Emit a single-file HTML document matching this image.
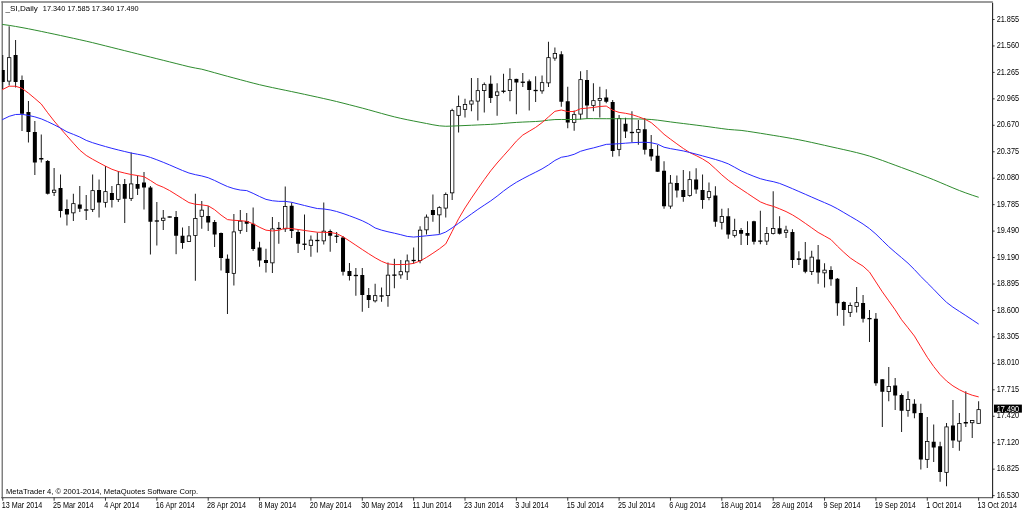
<!DOCTYPE html>
<html><head><meta charset="utf-8"><title>_SI,Daily</title>
<style>
html,body{margin:0;padding:0;background:#fff;}
body{width:1024px;height:512px;overflow:hidden;}
svg{display:block;}
text{font-family:"Liberation Sans",sans-serif;font-size:8.6px;fill:#000;}
.w{stroke:#000;stroke-width:0.9;}
.bb{fill:#000;}
.wb{fill:#fff;stroke:#000;stroke-width:0.8;}
.ma{fill:none;stroke-width:1;stroke-linejoin:round;}
</style></head><body>
<svg width="1024" height="512" viewBox="0 0 1024 512">
<rect x="0" y="0" width="1024" height="512" fill="#fff"/>
<line x1="2.25" y1="1.4" x2="2.25" y2="498.2" stroke="#7a7a7a" stroke-width="1.4"/>
<line x1="1.3" y1="2.1" x2="992.8" y2="2.1" stroke="#7a7a7a" stroke-width="1.5"/>
<line x1="1.3" y1="497.6" x2="993" y2="497.6" stroke="#6a6a6a" stroke-width="1.3"/>
<line x1="992.6" y1="2.8" x2="992.6" y2="498" stroke="#222" stroke-width="1.1"/>
<defs><clipPath id="c"><rect x="1.9" y="2.8" width="989.9" height="494.2"/></clipPath></defs>
<g clip-path="url(#c)">
<line class="w" x1="2.75" x2="2.75" y1="55.00" y2="89.00"/><rect class="bb" x="0.75" y="70.00" width="4.0" height="12.00"/>
<line class="w" x1="9.17" x2="9.17" y1="26.25" y2="85.50"/><rect class="wb" x="7.47" y="57.65" width="3.40" height="23.45"/>
<line class="w" x1="15.59" x2="15.59" y1="40.00" y2="87.50"/><rect class="bb" x="13.59" y="55.00" width="4.0" height="27.00"/>
<line class="w" x1="22.01" x2="22.01" y1="75.50" y2="131.00"/><rect class="bb" x="20.01" y="80.00" width="4.0" height="33.75"/>
<line class="w" x1="28.43" x2="28.43" y1="101.00" y2="142.50"/><rect class="bb" x="26.43" y="112.00" width="4.0" height="20.00"/>
<line class="w" x1="34.85" x2="34.85" y1="121.00" y2="175.00"/><rect class="bb" x="32.85" y="132.00" width="4.0" height="30.50"/>
<line class="w" x1="41.27" x2="41.27" y1="134.50" y2="162.50"/><rect class="bb" x="39.17" y="158.00" width="4.2" height="1.50"/>
<line class="w" x1="47.69" x2="47.69" y1="160.00" y2="194.50"/><rect class="bb" x="45.69" y="161.00" width="4.0" height="32.75"/>
<line class="w" x1="54.11" x2="54.11" y1="168.00" y2="196.00"/><rect class="wb" x="52.41" y="190.15" width="3.40" height="2.20"/>
<line class="w" x1="60.53" x2="60.53" y1="174.50" y2="217.50"/><rect class="bb" x="58.53" y="188.00" width="4.0" height="23.00"/>
<line class="w" x1="66.95" x2="66.95" y1="199.50" y2="225.50"/><rect class="bb" x="64.95" y="209.00" width="4.0" height="5.50"/>
<line class="w" x1="73.37" x2="73.37" y1="193.75" y2="221.00"/><rect class="wb" x="71.67" y="203.65" width="3.40" height="9.20"/>
<line class="w" x1="79.79" x2="79.79" y1="186.00" y2="212.00"/><rect class="bb" x="77.79" y="204.50" width="4.0" height="4.25"/>
<line class="w" x1="86.21" x2="86.21" y1="195.00" y2="220.00"/><rect class="bb" x="84.11" y="209.35" width="4.2" height="1.30"/>
<line class="w" x1="92.63" x2="92.63" y1="174.50" y2="212.00"/><rect class="wb" x="90.93" y="190.65" width="3.40" height="18.70"/>
<line class="w" x1="99.05" x2="99.05" y1="179.50" y2="217.50"/><rect class="bb" x="97.05" y="190.00" width="4.0" height="12.50"/>
<line class="w" x1="105.47" x2="105.47" y1="166.00" y2="207.50"/><rect class="wb" x="103.77" y="191.65" width="3.40" height="10.70"/>
<line class="w" x1="111.90" x2="111.90" y1="186.00" y2="207.50"/><rect class="bb" x="109.90" y="193.00" width="4.0" height="7.00"/>
<line class="w" x1="118.32" x2="118.32" y1="171.00" y2="202.00"/><rect class="wb" x="116.62" y="184.65" width="3.40" height="14.70"/>
<line class="w" x1="124.74" x2="124.74" y1="179.00" y2="223.00"/><rect class="bb" x="122.74" y="184.00" width="4.0" height="14.75"/>
<line class="w" x1="131.16" x2="131.16" y1="152.50" y2="201.00"/><rect class="wb" x="129.46" y="183.90" width="3.40" height="14.45"/>
<line class="w" x1="137.58" x2="137.58" y1="175.50" y2="195.00"/><rect class="bb" x="135.58" y="184.00" width="4.0" height="4.75"/>
<line class="w" x1="144.00" x2="144.00" y1="172.00" y2="209.50"/><rect class="bb" x="142.00" y="182.50" width="4.0" height="5.00"/>
<line class="w" x1="150.42" x2="150.42" y1="186.00" y2="254.50"/><rect class="bb" x="148.42" y="187.50" width="4.0" height="34.25"/>
<line class="w" x1="156.84" x2="156.84" y1="202.00" y2="245.50"/><rect class="bb" x="154.74" y="220.35" width="4.2" height="1.30"/>
<line class="w" x1="163.26" x2="163.26" y1="210.00" y2="230.00"/><rect class="wb" x="161.56" y="218.15" width="3.40" height="2.20"/>
<line class="w" x1="169.68" x2="169.68" y1="216.50" y2="217.50"/><rect class="bb" x="167.58" y="216.35" width="4.2" height="1.30"/>
<line class="w" x1="176.10" x2="176.10" y1="211.00" y2="254.20"/><rect class="bb" x="174.10" y="217.00" width="4.0" height="18.75"/>
<line class="w" x1="182.52" x2="182.52" y1="227.50" y2="248.75"/><rect class="bb" x="180.52" y="235.75" width="4.0" height="7.25"/>
<line class="w" x1="188.94" x2="188.94" y1="226.00" y2="241.75"/><rect class="wb" x="187.24" y="235.90" width="3.40" height="5.70"/>
<line class="w" x1="195.36" x2="195.36" y1="193.75" y2="280.75"/><rect class="wb" x="193.66" y="218.40" width="3.40" height="17.20"/>
<line class="w" x1="201.78" x2="201.78" y1="201.00" y2="228.75"/><rect class="wb" x="200.08" y="210.15" width="3.40" height="6.20"/>
<line class="w" x1="208.20" x2="208.20" y1="206.00" y2="231.00"/><rect class="bb" x="206.20" y="216.00" width="4.0" height="6.50"/>
<line class="w" x1="214.62" x2="214.62" y1="220.00" y2="247.00"/><rect class="bb" x="212.62" y="222.00" width="4.0" height="12.50"/>
<line class="w" x1="221.04" x2="221.04" y1="232.50" y2="270.50"/><rect class="bb" x="219.04" y="233.00" width="4.0" height="25.00"/>
<line class="w" x1="227.46" x2="227.46" y1="254.50" y2="314.00"/><rect class="bb" x="225.46" y="258.75" width="4.0" height="14.25"/>
<line class="w" x1="233.88" x2="233.88" y1="214.00" y2="285.50"/><rect class="wb" x="232.18" y="231.90" width="3.40" height="41.45"/>
<line class="w" x1="240.30" x2="240.30" y1="210.00" y2="233.75"/><rect class="wb" x="238.60" y="221.15" width="3.40" height="9.20"/>
<line class="w" x1="246.72" x2="246.72" y1="213.00" y2="232.00"/><rect class="bb" x="244.72" y="221.00" width="4.0" height="2.75"/>
<line class="w" x1="253.14" x2="253.14" y1="207.50" y2="251.00"/><rect class="bb" x="251.14" y="223.75" width="4.0" height="25.25"/>
<line class="w" x1="259.56" x2="259.56" y1="241.75" y2="266.75"/><rect class="bb" x="257.56" y="247.50" width="4.0" height="13.00"/>
<line class="w" x1="265.98" x2="265.98" y1="248.75" y2="272.50"/><rect class="bb" x="263.98" y="260.00" width="4.0" height="3.00"/>
<line class="w" x1="272.40" x2="272.40" y1="217.00" y2="273.00"/><rect class="wb" x="270.70" y="228.90" width="3.40" height="33.95"/>
<line class="w" x1="278.82" x2="278.82" y1="222.00" y2="243.75"/><rect class="bb" x="276.72" y="227.85" width="4.2" height="1.30"/>
<line class="w" x1="285.24" x2="285.24" y1="186.50" y2="232.00"/><rect class="wb" x="283.54" y="206.40" width="3.40" height="22.45"/>
<line class="w" x1="291.66" x2="291.66" y1="202.50" y2="238.00"/><rect class="bb" x="289.66" y="205.75" width="4.0" height="25.25"/>
<line class="w" x1="298.08" x2="298.08" y1="230.00" y2="253.00"/><rect class="bb" x="296.08" y="232.00" width="4.0" height="11.75"/>
<line class="w" x1="304.50" x2="304.50" y1="214.50" y2="250.00"/><rect class="bb" x="302.40" y="243.60" width="4.2" height="1.30"/>
<line class="w" x1="310.92" x2="310.92" y1="235.50" y2="256.75"/><rect class="wb" x="309.22" y="240.15" width="3.40" height="5.20"/>
<line class="w" x1="317.34" x2="317.34" y1="232.50" y2="252.50"/><rect class="bb" x="315.24" y="239.85" width="4.2" height="1.30"/>
<line class="w" x1="323.76" x2="323.76" y1="202.50" y2="244.50"/><rect class="wb" x="322.06" y="231.15" width="3.40" height="9.70"/>
<line class="w" x1="330.19" x2="330.19" y1="229.50" y2="251.75"/><rect class="bb" x="328.19" y="231.00" width="4.0" height="4.75"/>
<line class="w" x1="336.61" x2="336.61" y1="232.00" y2="243.00"/><rect class="bb" x="334.51" y="235.60" width="4.2" height="1.30"/>
<line class="w" x1="343.03" x2="343.03" y1="236.00" y2="275.50"/><rect class="bb" x="341.03" y="237.50" width="4.0" height="34.25"/>
<line class="w" x1="349.45" x2="349.45" y1="263.00" y2="280.50"/><rect class="bb" x="347.45" y="271.00" width="4.0" height="5.00"/>
<line class="w" x1="355.87" x2="355.87" y1="268.00" y2="295.75"/><rect class="bb" x="353.77" y="274.85" width="4.2" height="1.30"/>
<line class="w" x1="362.29" x2="362.29" y1="268.00" y2="311.75"/><rect class="bb" x="360.29" y="275.00" width="4.0" height="20.00"/>
<line class="w" x1="368.71" x2="368.71" y1="288.00" y2="308.00"/><rect class="bb" x="366.71" y="295.00" width="4.0" height="5.00"/>
<line class="w" x1="375.13" x2="375.13" y1="283.75" y2="302.50"/><rect class="wb" x="373.43" y="295.65" width="3.40" height="5.20"/>
<line class="w" x1="381.55" x2="381.55" y1="287.50" y2="301.75"/><rect class="bb" x="379.45" y="295.35" width="4.2" height="1.30"/>
<line class="w" x1="387.97" x2="387.97" y1="262.50" y2="306.75"/><rect class="wb" x="386.27" y="275.15" width="3.40" height="20.45"/>
<line class="w" x1="394.39" x2="394.39" y1="258.75" y2="288.25"/><rect class="bb" x="392.29" y="274.48" width="4.2" height="1.30"/>
<line class="w" x1="400.81" x2="400.81" y1="260.00" y2="278.75"/><rect class="wb" x="399.11" y="271.65" width="3.40" height="3.20"/>
<line class="w" x1="407.23" x2="407.23" y1="254.50" y2="280.00"/><rect class="wb" x="405.53" y="260.90" width="3.40" height="10.95"/>
<line class="w" x1="413.65" x2="413.65" y1="247.50" y2="263.75"/><rect class="bb" x="411.55" y="259.85" width="4.2" height="1.30"/>
<line class="w" x1="420.07" x2="420.07" y1="226.25" y2="263.25"/><rect class="wb" x="418.37" y="230.15" width="3.40" height="30.45"/>
<line class="w" x1="426.49" x2="426.49" y1="214.50" y2="234.50"/><rect class="wb" x="424.79" y="217.15" width="3.40" height="12.70"/>
<line class="w" x1="432.91" x2="432.91" y1="194.50" y2="221.75"/><rect class="bb" x="430.91" y="210.00" width="4.0" height="5.00"/>
<line class="w" x1="439.33" x2="439.33" y1="206.25" y2="233.75"/><rect class="wb" x="437.63" y="207.65" width="3.40" height="7.20"/>
<line class="w" x1="445.75" x2="445.75" y1="192.50" y2="217.50"/><rect class="wb" x="444.05" y="194.40" width="3.40" height="13.70"/>
<line class="w" x1="452.17" x2="452.17" y1="108.75" y2="200.00"/><rect class="wb" x="450.47" y="110.65" width="3.40" height="82.20"/>
<line class="w" x1="458.59" x2="458.59" y1="95.50" y2="132.50"/><rect class="wb" x="456.89" y="106.40" width="3.40" height="8.95"/>
<line class="w" x1="465.01" x2="465.01" y1="98.75" y2="117.50"/><rect class="wb" x="463.31" y="104.40" width="3.40" height="4.95"/>
<line class="w" x1="471.43" x2="471.43" y1="78.00" y2="111.25"/><rect class="wb" x="469.73" y="100.90" width="3.40" height="3.20"/>
<line class="w" x1="477.85" x2="477.85" y1="78.00" y2="120.50"/><rect class="wb" x="476.15" y="90.65" width="3.40" height="10.45"/>
<line class="w" x1="484.27" x2="484.27" y1="82.50" y2="112.50"/><rect class="wb" x="482.57" y="84.65" width="3.40" height="5.95"/>
<line class="w" x1="490.69" x2="490.69" y1="75.50" y2="103.00"/><rect class="bb" x="488.69" y="83.75" width="4.0" height="14.25"/>
<line class="w" x1="497.11" x2="497.11" y1="83.25" y2="115.75"/><rect class="wb" x="495.41" y="91.90" width="3.40" height="3.45"/>
<line class="w" x1="503.53" x2="503.53" y1="73.75" y2="93.25"/><rect class="bb" x="501.43" y="90.60" width="4.2" height="1.30"/>
<line class="w" x1="509.95" x2="509.95" y1="68.25" y2="101.25"/><rect class="wb" x="508.25" y="79.65" width="3.40" height="10.95"/>
<line class="w" x1="516.37" x2="516.37" y1="78.75" y2="114.25"/><rect class="bb" x="514.37" y="78.90" width="4.0" height="3.60"/>
<line class="w" x1="522.79" x2="522.79" y1="73.00" y2="87.00"/><rect class="bb" x="520.69" y="81.60" width="4.2" height="1.30"/>
<line class="w" x1="529.21" x2="529.21" y1="79.50" y2="110.50"/><rect class="bb" x="527.21" y="81.25" width="4.0" height="8.75"/>
<line class="w" x1="535.63" x2="535.63" y1="76.25" y2="102.00"/><rect class="bb" x="533.53" y="89.85" width="4.2" height="1.30"/>
<line class="w" x1="542.06" x2="542.06" y1="75.50" y2="93.75"/><rect class="wb" x="540.36" y="82.65" width="3.40" height="8.20"/>
<line class="w" x1="548.48" x2="548.48" y1="41.75" y2="87.00"/><rect class="wb" x="546.78" y="57.65" width="3.40" height="25.20"/>
<line class="w" x1="554.90" x2="554.90" y1="47.50" y2="60.75"/><rect class="wb" x="553.20" y="53.40" width="3.40" height="4.70"/>
<line class="w" x1="561.32" x2="561.32" y1="51.25" y2="106.75"/><rect class="bb" x="559.32" y="54.25" width="4.0" height="47.50"/>
<line class="w" x1="567.74" x2="567.74" y1="86.75" y2="128.25"/><rect class="bb" x="565.74" y="101.25" width="4.0" height="21.25"/>
<line class="w" x1="574.16" x2="574.16" y1="110.50" y2="130.75"/><rect class="wb" x="572.46" y="114.65" width="3.40" height="7.70"/>
<line class="w" x1="580.58" x2="580.58" y1="71.25" y2="119.50"/><rect class="wb" x="578.88" y="79.65" width="3.40" height="34.45"/>
<line class="w" x1="587.00" x2="587.00" y1="70.00" y2="118.75"/><rect class="bb" x="585.00" y="80.00" width="4.0" height="25.50"/>
<line class="w" x1="593.42" x2="593.42" y1="83.25" y2="111.25"/><rect class="wb" x="591.72" y="100.65" width="3.40" height="4.70"/>
<line class="w" x1="599.84" x2="599.84" y1="86.75" y2="117.50"/><rect class="wb" x="598.14" y="98.40" width="3.40" height="1.95"/>
<line class="w" x1="606.26" x2="606.26" y1="89.25" y2="103.25"/><rect class="bb" x="604.26" y="97.50" width="4.0" height="4.25"/>
<line class="w" x1="612.68" x2="612.68" y1="100.00" y2="156.75"/><rect class="bb" x="610.68" y="102.00" width="4.0" height="49.00"/>
<line class="w" x1="619.10" x2="619.10" y1="115.00" y2="156.25"/><rect class="wb" x="617.40" y="118.40" width="3.40" height="30.95"/>
<line class="w" x1="625.52" x2="625.52" y1="117.75" y2="138.00"/><rect class="bb" x="623.52" y="123.75" width="4.0" height="7.75"/>
<line class="w" x1="631.94" x2="631.94" y1="111.25" y2="142.25"/><rect class="bb" x="629.84" y="131.85" width="4.2" height="1.30"/>
<line class="w" x1="638.36" x2="638.36" y1="120.00" y2="144.75"/><rect class="wb" x="636.66" y="129.40" width="3.40" height="2.95"/>
<line class="w" x1="644.78" x2="644.78" y1="118.00" y2="154.50"/><rect class="bb" x="642.78" y="129.25" width="4.0" height="20.50"/>
<line class="w" x1="651.20" x2="651.20" y1="135.00" y2="160.75"/><rect class="bb" x="649.20" y="149.00" width="4.0" height="7.50"/>
<line class="w" x1="657.62" x2="657.62" y1="145.00" y2="171.75"/><rect class="bb" x="655.62" y="155.75" width="4.0" height="16.00"/>
<line class="w" x1="664.04" x2="664.04" y1="161.25" y2="208.75"/><rect class="bb" x="662.04" y="170.75" width="4.0" height="35.50"/>
<line class="w" x1="670.46" x2="670.46" y1="175.00" y2="208.75"/><rect class="wb" x="668.76" y="183.15" width="3.40" height="22.95"/>
<line class="w" x1="676.88" x2="676.88" y1="175.50" y2="197.50"/><rect class="bb" x="674.88" y="183.00" width="4.0" height="7.50"/>
<line class="w" x1="683.30" x2="683.30" y1="170.00" y2="201.75"/><rect class="bb" x="681.30" y="190.00" width="4.0" height="7.00"/>
<line class="w" x1="689.72" x2="689.72" y1="171.25" y2="196.75"/><rect class="wb" x="688.02" y="179.65" width="3.40" height="15.95"/>
<line class="w" x1="696.14" x2="696.14" y1="168.25" y2="193.75"/><rect class="bb" x="694.14" y="179.50" width="4.0" height="10.00"/>
<line class="w" x1="702.56" x2="702.56" y1="174.50" y2="208.75"/><rect class="bb" x="700.56" y="190.00" width="4.0" height="10.00"/>
<line class="w" x1="708.98" x2="708.98" y1="182.50" y2="200.25"/><rect class="wb" x="707.28" y="191.65" width="3.40" height="5.95"/>
<line class="w" x1="715.40" x2="715.40" y1="186.25" y2="226.75"/><rect class="bb" x="713.40" y="195.50" width="4.0" height="26.25"/>
<line class="w" x1="721.82" x2="721.82" y1="208.75" y2="229.50"/><rect class="wb" x="720.12" y="216.40" width="3.40" height="5.95"/>
<line class="w" x1="728.24" x2="728.24" y1="208.25" y2="238.75"/><rect class="bb" x="726.24" y="216.25" width="4.0" height="18.25"/>
<line class="w" x1="734.66" x2="734.66" y1="218.75" y2="237.50"/><rect class="wb" x="732.96" y="230.40" width="3.40" height="4.95"/>
<line class="w" x1="741.08" x2="741.08" y1="228.00" y2="245.00"/><rect class="bb" x="739.08" y="230.00" width="4.0" height="3.75"/>
<line class="w" x1="747.50" x2="747.50" y1="221.25" y2="245.00"/><rect class="bb" x="745.50" y="233.00" width="4.0" height="2.75"/>
<line class="w" x1="753.93" x2="753.93" y1="220.75" y2="244.50"/><rect class="bb" x="751.93" y="221.25" width="4.0" height="20.50"/>
<line class="w" x1="760.35" x2="760.35" y1="210.75" y2="244.25"/><rect class="bb" x="758.25" y="240.47" width="4.2" height="1.30"/>
<line class="w" x1="766.77" x2="766.77" y1="227.00" y2="245.00"/><rect class="wb" x="765.07" y="233.40" width="3.40" height="7.70"/>
<line class="w" x1="773.19" x2="773.19" y1="191.25" y2="234.50"/><rect class="wb" x="771.49" y="228.40" width="3.40" height="5.20"/>
<line class="w" x1="779.61" x2="779.61" y1="216.25" y2="234.50"/><rect class="bb" x="777.61" y="228.25" width="4.0" height="5.50"/>
<line class="w" x1="786.03" x2="786.03" y1="225.75" y2="238.00"/><rect class="wb" x="784.33" y="230.15" width="3.40" height="2.20"/>
<line class="w" x1="792.45" x2="792.45" y1="229.25" y2="268.00"/><rect class="bb" x="790.45" y="232.00" width="4.0" height="28.00"/>
<line class="w" x1="798.87" x2="798.87" y1="251.25" y2="265.00"/><rect class="bb" x="796.77" y="258.25" width="4.2" height="1.75"/>
<line class="w" x1="805.29" x2="805.29" y1="242.00" y2="273.25"/><rect class="bb" x="803.29" y="259.50" width="4.0" height="12.25"/>
<line class="w" x1="811.71" x2="811.71" y1="250.75" y2="275.00"/><rect class="wb" x="810.01" y="257.15" width="3.40" height="14.45"/>
<line class="w" x1="818.13" x2="818.13" y1="245.00" y2="283.75"/><rect class="bb" x="816.13" y="259.50" width="4.0" height="13.00"/>
<line class="w" x1="824.55" x2="824.55" y1="263.25" y2="287.50"/><rect class="wb" x="822.85" y="270.15" width="3.40" height="2.70"/>
<line class="w" x1="830.97" x2="830.97" y1="266.25" y2="285.75"/><rect class="bb" x="828.97" y="270.00" width="4.0" height="9.25"/>
<line class="w" x1="837.39" x2="837.39" y1="278.00" y2="315.75"/><rect class="bb" x="835.39" y="278.75" width="4.0" height="24.50"/>
<line class="w" x1="843.81" x2="843.81" y1="301.25" y2="325.75"/><rect class="bb" x="841.81" y="302.00" width="4.0" height="8.00"/>
<line class="w" x1="850.23" x2="850.23" y1="302.50" y2="317.00"/><rect class="wb" x="848.53" y="305.40" width="3.40" height="6.95"/>
<line class="w" x1="856.65" x2="856.65" y1="287.00" y2="312.50"/><rect class="wb" x="854.95" y="302.65" width="3.40" height="3.70"/>
<line class="w" x1="863.07" x2="863.07" y1="295.00" y2="322.50"/><rect class="bb" x="861.07" y="303.00" width="4.0" height="15.75"/>
<line class="w" x1="869.49" x2="869.49" y1="310.00" y2="342.00"/><rect class="bb" x="867.39" y="317.98" width="4.2" height="1.30"/>
<line class="w" x1="875.91" x2="875.91" y1="313.00" y2="385.75"/><rect class="bb" x="873.91" y="318.75" width="4.0" height="64.50"/>
<line class="w" x1="882.33" x2="882.33" y1="379.25" y2="427.00"/><rect class="bb" x="880.33" y="379.25" width="4.0" height="12.50"/>
<line class="w" x1="888.75" x2="888.75" y1="367.00" y2="401.25"/><rect class="wb" x="887.05" y="386.40" width="3.40" height="5.20"/>
<line class="w" x1="895.17" x2="895.17" y1="378.00" y2="410.00"/><rect class="bb" x="893.17" y="385.50" width="4.0" height="10.00"/>
<line class="w" x1="901.59" x2="901.59" y1="393.50" y2="432.00"/><rect class="bb" x="899.59" y="395.00" width="4.0" height="15.75"/>
<line class="w" x1="908.01" x2="908.01" y1="391.25" y2="416.75"/><rect class="wb" x="906.31" y="399.40" width="3.40" height="10.95"/>
<line class="w" x1="914.43" x2="914.43" y1="399.25" y2="418.25"/><rect class="bb" x="912.43" y="403.75" width="4.0" height="9.50"/>
<line class="w" x1="920.85" x2="920.85" y1="403.75" y2="469.50"/><rect class="bb" x="918.85" y="413.00" width="4.0" height="46.50"/>
<line class="w" x1="927.27" x2="927.27" y1="417.00" y2="468.00"/><rect class="wb" x="925.57" y="441.40" width="3.40" height="17.95"/>
<line class="w" x1="933.69" x2="933.69" y1="424.50" y2="462.00"/><rect class="bb" x="931.69" y="441.75" width="4.0" height="5.75"/>
<line class="w" x1="940.11" x2="940.11" y1="441.75" y2="481.75"/><rect class="bb" x="938.11" y="446.25" width="4.0" height="25.75"/>
<line class="w" x1="946.53" x2="946.53" y1="423.00" y2="486.25"/><rect class="wb" x="944.83" y="426.90" width="3.40" height="45.45"/>
<line class="w" x1="952.95" x2="952.95" y1="400.00" y2="448.00"/><rect class="bb" x="950.95" y="425.50" width="4.0" height="15.00"/>
<line class="w" x1="959.37" x2="959.37" y1="413.00" y2="450.75"/><rect class="wb" x="957.67" y="423.40" width="3.40" height="17.70"/>
<line class="w" x1="965.80" x2="965.80" y1="391.25" y2="427.00"/><rect class="bb" x="963.70" y="422.00" width="4.2" height="1.50"/>
<line class="w" x1="972.22" x2="972.22" y1="420.00" y2="438.00"/><rect class="wb" x="970.52" y="420.55" width="3.40" height="2.20"/>
<line class="w" x1="978.64" x2="978.64" y1="401.25" y2="423.50"/><rect class="wb" x="976.94" y="409.65" width="3.40" height="13.70"/>
<path class="ma" stroke="#2e8b2e" d="M2.00,24.40 L2.75,24.49 L9.17,25.37 L15.59,26.44 L22.01,27.58 L28.43,28.79 L34.85,30.08 L41.27,31.40 L47.69,32.75 L54.11,34.11 L60.53,35.49 L66.95,36.90 L73.37,38.30 L79.79,39.71 L86.21,41.16 L92.63,42.67 L99.05,44.26 L105.47,45.87 L111.90,47.47 L118.32,49.08 L124.74,50.68 L131.16,52.29 L137.58,53.89 L144.00,55.50 L150.42,57.10 L156.84,58.71 L163.26,60.31 L169.68,61.92 L176.10,63.52 L182.52,65.13 L188.94,66.73 L195.36,68.05 L201.78,69.21 L208.20,70.93 L214.62,72.72 L221.04,74.51 L227.46,76.29 L233.88,78.00 L240.30,79.71 L246.72,81.43 L253.14,83.11 L259.56,84.71 L265.98,86.19 L272.40,87.59 L278.82,88.93 L285.24,90.25 L291.66,91.58 L298.08,92.95 L304.50,94.33 L310.92,95.72 L317.34,97.12 L323.76,98.55 L330.19,100.00 L336.61,101.53 L343.03,103.13 L349.45,104.77 L355.87,106.43 L362.29,108.10 L368.71,109.84 L375.13,111.63 L381.55,113.43 L387.97,115.19 L394.39,116.85 L400.81,118.36 L407.23,119.73 L413.65,121.01 L420.07,122.25 L426.49,123.49 L432.91,124.78 L439.33,125.82 L445.75,126.28 L452.17,126.07 L458.59,125.81 L465.01,125.52 L471.43,125.24 L477.85,124.95 L484.27,124.67 L490.69,124.37 L497.11,123.95 L503.53,123.43 L509.95,122.88 L516.37,122.41 L522.79,122.07 L529.21,121.79 L535.63,121.50 L542.06,121.06 L548.48,120.14 L554.90,119.57 L561.32,119.47 L567.74,119.53 L574.16,119.51 L580.58,119.14 L587.00,118.60 L593.42,118.64 L599.84,118.70 L606.26,118.71 L612.68,118.72 L619.10,118.73 L625.52,118.75 L631.94,118.82 L638.36,118.95 L644.78,119.13 L651.20,119.49 L657.62,120.17 L664.04,121.03 L670.46,121.91 L676.88,122.74 L683.30,123.53 L689.72,124.32 L696.14,125.12 L702.56,125.93 L708.98,126.79 L715.40,127.69 L721.82,128.58 L728.24,129.43 L734.66,129.92 L741.08,130.39 L747.50,131.27 L753.93,132.24 L760.35,133.25 L766.77,134.30 L773.19,135.35 L779.61,136.39 L786.03,137.46 L792.45,138.58 L798.87,139.78 L805.29,141.07 L811.71,142.45 L818.13,143.87 L824.55,145.32 L830.97,146.77 L837.39,148.19 L843.81,149.62 L850.23,151.07 L856.65,152.60 L863.07,154.25 L869.49,156.09 L875.91,158.19 L882.33,160.45 L888.75,162.82 L895.17,165.20 L901.59,167.56 L908.01,169.93 L914.43,172.33 L920.85,174.75 L927.27,177.22 L933.69,179.78 L940.11,182.46 L946.53,185.20 L952.95,187.90 L959.37,190.51 L965.80,192.93 L972.22,195.18 L978.64,197.28 L978.70,197.30"/>
<path class="ma" stroke="#ff2020" d="M2.00,90.00 L2.75,89.42 L9.17,86.21 L15.59,86.24 L22.01,88.36 L28.43,93.11 L34.85,98.46 L41.27,104.03 L47.69,112.77 L54.11,121.02 L60.53,128.55 L66.95,135.88 L73.37,143.14 L79.79,150.15 L86.21,155.43 L92.63,159.26 L99.05,162.75 L105.47,166.16 L111.90,169.25 L118.32,171.49 L124.74,173.08 L131.16,174.54 L137.58,175.55 L144.00,176.70 L150.42,180.48 L156.84,184.63 L163.26,187.24 L169.68,190.58 L176.10,194.59 L182.52,198.61 L188.94,202.61 L195.36,204.25 L201.78,204.86 L208.20,205.83 L214.62,209.71 L221.04,215.07 L227.46,219.59 L233.88,220.32 L240.30,220.67 L246.72,221.30 L253.14,223.82 L259.56,227.28 L265.98,230.16 L272.40,230.95 L278.82,230.24 L285.24,228.22 L291.66,228.54 L298.08,229.51 L304.50,230.43 L310.92,231.35 L317.34,232.21 L323.76,232.37 L330.19,232.47 L336.61,233.57 L343.03,236.77 L349.45,240.95 L355.87,245.24 L362.29,249.53 L368.71,253.72 L375.13,257.74 L381.55,261.31 L387.97,263.86 L394.39,264.60 L400.81,264.51 L407.23,264.35 L413.65,263.37 L420.07,260.98 L426.49,257.40 L432.91,253.23 L439.33,248.86 L445.75,243.93 L452.17,231.36 L458.59,218.81 L465.01,207.95 L471.43,198.13 L477.85,188.79 L484.27,179.63 L490.69,170.85 L497.11,163.01 L503.53,155.80 L509.95,148.63 L516.37,141.11 L522.79,135.06 L529.21,131.22 L535.63,127.40 L542.06,122.63 L548.48,116.95 L554.90,111.34 L561.32,110.00 L567.74,111.59 L574.16,111.51 L580.58,108.71 L587.00,108.14 L593.42,107.45 L599.84,106.48 L606.26,106.05 L612.68,110.19 L619.10,112.38 L625.52,113.31 L631.94,114.60 L638.36,116.69 L644.78,119.18 L651.20,122.60 L657.62,128.18 L664.04,134.29 L670.46,139.17 L676.88,143.86 L683.30,148.44 L689.72,152.56 L696.14,155.60 L702.56,158.92 L708.98,162.99 L715.40,168.81 L721.82,174.87 L728.24,180.23 L734.66,184.87 L741.08,189.15 L747.50,193.42 L753.93,197.71 L760.35,201.90 L766.77,204.51 L773.19,206.32 L779.61,208.82 L786.03,211.55 L792.45,214.89 L798.87,218.89 L805.29,223.32 L811.71,227.82 L818.13,232.40 L824.55,235.94 L830.97,239.59 L837.39,246.16 L843.81,252.28 L850.23,257.92 L856.65,262.24 L863.07,266.16 L869.49,272.04 L875.91,281.98 L882.33,291.84 L888.75,300.83 L895.17,309.82 L901.59,319.76 L908.01,327.81 L914.43,336.07 L920.85,346.74 L927.27,357.24 L933.69,366.53 L940.11,374.57 L946.53,380.98 L952.95,385.90 L959.37,389.71 L965.80,392.87 L972.22,395.22 L978.64,396.89 L978.70,396.90"/>
<path class="ma" stroke="#2828ff" d="M2.00,120.00 L2.75,119.45 L9.17,116.34 L15.59,114.49 L22.01,114.34 L28.43,115.43 L34.85,116.86 L41.27,118.88 L47.69,121.66 L54.11,124.75 L60.53,128.08 L66.95,131.82 L73.37,134.36 L79.79,137.02 L86.21,140.37 L92.63,142.71 L99.05,144.69 L105.47,146.56 L111.90,148.34 L118.32,149.98 L124.74,151.53 L131.16,153.04 L137.58,154.25 L144.00,155.50 L150.42,157.41 L156.84,159.78 L163.26,162.30 L169.68,164.96 L176.10,167.76 L182.52,170.51 L188.94,173.01 L195.36,174.67 L201.78,175.96 L208.20,177.74 L214.62,180.47 L221.04,183.62 L227.46,186.54 L233.88,188.67 L240.30,190.05 L246.72,190.58 L253.14,193.39 L259.56,196.53 L265.98,199.37 L272.40,200.74 L278.82,201.35 L285.24,201.35 L291.66,202.31 L298.08,203.90 L304.50,205.50 L310.92,207.09 L317.34,208.54 L323.76,208.97 L330.19,209.93 L336.61,211.48 L343.03,213.51 L349.45,215.78 L355.87,218.18 L362.29,220.76 L368.71,223.94 L375.13,227.96 L381.55,230.15 L387.97,231.78 L394.39,233.19 L400.81,234.71 L407.23,236.41 L413.65,237.06 L420.07,236.44 L426.49,235.80 L432.91,235.16 L439.33,234.52 L445.75,232.02 L452.17,227.87 L458.59,223.31 L465.01,218.64 L471.43,213.97 L477.85,209.41 L484.27,205.13 L490.69,200.90 L497.11,196.16 L503.53,191.05 L509.95,186.41 L516.37,182.31 L522.79,178.75 L529.21,175.40 L535.63,172.20 L542.06,168.88 L548.48,164.95 L554.90,160.45 L561.32,157.27 L567.74,156.18 L574.16,154.30 L580.58,151.27 L587.00,149.43 L593.42,147.92 L599.84,146.18 L606.26,144.36 L612.68,144.09 L619.10,143.69 L625.52,143.18 L631.94,142.70 L638.36,142.40 L644.78,142.24 L651.20,142.74 L657.62,144.19 L664.04,147.22 L670.46,148.64 L676.88,149.75 L683.30,150.93 L689.72,152.48 L696.14,154.17 L702.56,155.89 L708.98,157.65 L715.40,159.47 L721.82,161.44 L728.24,163.83 L734.66,167.28 L741.08,170.84 L747.50,173.72 L753.93,176.35 L760.35,178.70 L766.77,180.38 L773.19,181.64 L779.61,183.41 L786.03,185.98 L792.45,188.68 L798.87,191.47 L805.29,194.28 L811.71,197.09 L818.13,199.89 L824.55,202.64 L830.97,205.44 L837.39,208.76 L843.81,212.52 L850.23,216.29 L856.65,220.04 L863.07,224.06 L869.49,228.62 L875.91,234.09 L882.33,240.38 L888.75,246.66 L895.17,252.28 L901.59,257.63 L908.01,263.20 L914.43,269.57 L920.85,276.46 L927.27,282.88 L933.69,289.29 L940.11,296.03 L946.53,302.30 L952.95,307.20 L959.37,311.38 L965.80,315.55 L972.22,319.79 L978.64,324.06 L978.70,324.10"/>
</g>
<line x1="992.6" x2="994.6" y1="19.50" y2="19.50" stroke="#222" stroke-width="0.9"/><text x="996.7" y="21.60" textLength="22.4" lengthAdjust="spacingAndGlyphs">21.855</text>
<line x1="992.6" x2="994.6" y1="45.95" y2="45.95" stroke="#222" stroke-width="0.9"/><text x="996.7" y="48.05" textLength="22.4" lengthAdjust="spacingAndGlyphs">21.560</text>
<line x1="992.6" x2="994.6" y1="72.40" y2="72.40" stroke="#222" stroke-width="0.9"/><text x="996.7" y="74.50" textLength="22.4" lengthAdjust="spacingAndGlyphs">21.265</text>
<line x1="992.6" x2="994.6" y1="98.85" y2="98.85" stroke="#222" stroke-width="0.9"/><text x="996.7" y="100.95" textLength="22.4" lengthAdjust="spacingAndGlyphs">20.965</text>
<line x1="992.6" x2="994.6" y1="125.30" y2="125.30" stroke="#222" stroke-width="0.9"/><text x="996.7" y="127.40" textLength="22.4" lengthAdjust="spacingAndGlyphs">20.670</text>
<line x1="992.6" x2="994.6" y1="151.75" y2="151.75" stroke="#222" stroke-width="0.9"/><text x="996.7" y="153.85" textLength="22.4" lengthAdjust="spacingAndGlyphs">20.375</text>
<line x1="992.6" x2="994.6" y1="178.20" y2="178.20" stroke="#222" stroke-width="0.9"/><text x="996.7" y="180.30" textLength="22.4" lengthAdjust="spacingAndGlyphs">20.080</text>
<line x1="992.6" x2="994.6" y1="204.65" y2="204.65" stroke="#222" stroke-width="0.9"/><text x="996.7" y="206.75" textLength="22.4" lengthAdjust="spacingAndGlyphs">19.785</text>
<line x1="992.6" x2="994.6" y1="231.10" y2="231.10" stroke="#222" stroke-width="0.9"/><text x="996.7" y="233.20" textLength="22.4" lengthAdjust="spacingAndGlyphs">19.490</text>
<line x1="992.6" x2="994.6" y1="257.55" y2="257.55" stroke="#222" stroke-width="0.9"/><text x="996.7" y="259.65" textLength="22.4" lengthAdjust="spacingAndGlyphs">19.190</text>
<line x1="992.6" x2="994.6" y1="284.00" y2="284.00" stroke="#222" stroke-width="0.9"/><text x="996.7" y="286.10" textLength="22.4" lengthAdjust="spacingAndGlyphs">18.895</text>
<line x1="992.6" x2="994.6" y1="310.45" y2="310.45" stroke="#222" stroke-width="0.9"/><text x="996.7" y="312.55" textLength="22.4" lengthAdjust="spacingAndGlyphs">18.600</text>
<line x1="992.6" x2="994.6" y1="336.90" y2="336.90" stroke="#222" stroke-width="0.9"/><text x="996.7" y="339.00" textLength="22.4" lengthAdjust="spacingAndGlyphs">18.305</text>
<line x1="992.6" x2="994.6" y1="363.35" y2="363.35" stroke="#222" stroke-width="0.9"/><text x="996.7" y="365.45" textLength="22.4" lengthAdjust="spacingAndGlyphs">18.010</text>
<line x1="992.6" x2="994.6" y1="389.80" y2="389.80" stroke="#222" stroke-width="0.9"/><text x="996.7" y="391.90" textLength="22.4" lengthAdjust="spacingAndGlyphs">17.715</text>
<line x1="992.6" x2="994.6" y1="416.25" y2="416.25" stroke="#222" stroke-width="0.9"/><text x="996.7" y="418.35" textLength="22.4" lengthAdjust="spacingAndGlyphs">17.420</text>
<line x1="992.6" x2="994.6" y1="442.70" y2="442.70" stroke="#222" stroke-width="0.9"/><text x="996.7" y="444.80" textLength="22.4" lengthAdjust="spacingAndGlyphs">17.120</text>
<line x1="992.6" x2="994.6" y1="469.15" y2="469.15" stroke="#222" stroke-width="0.9"/><text x="996.7" y="471.25" textLength="22.4" lengthAdjust="spacingAndGlyphs">16.825</text>
<line x1="992.6" x2="994.6" y1="495.60" y2="495.60" stroke="#222" stroke-width="0.9"/><text x="996.7" y="497.70" textLength="22.4" lengthAdjust="spacingAndGlyphs">16.530</text>
<rect x="994" y="404.6" width="27.9" height="8.05" fill="#000"/><text x="996.8" y="411.9" textLength="22.2" lengthAdjust="spacingAndGlyphs" style="fill:#fff">17.490</text>
<line x1="2.75" x2="2.75" y1="497.6" y2="500.7" stroke="#222" stroke-width="0.9"/><text transform="translate(1.65,507.9) scale(0.842,1)">13 Mar 2014</text>
<line x1="54.11" x2="54.11" y1="497.6" y2="500.7" stroke="#222" stroke-width="0.9"/><text transform="translate(53.01,507.9) scale(0.842,1)">25 Mar 2014</text>
<line x1="105.47" x2="105.47" y1="497.6" y2="500.7" stroke="#222" stroke-width="0.9"/><text transform="translate(104.37,507.9) scale(0.842,1)">4 Apr 2014</text>
<line x1="156.84" x2="156.84" y1="497.6" y2="500.7" stroke="#222" stroke-width="0.9"/><text transform="translate(155.74,507.9) scale(0.842,1)">16 Apr 2014</text>
<line x1="208.20" x2="208.20" y1="497.6" y2="500.7" stroke="#222" stroke-width="0.9"/><text transform="translate(207.10,507.9) scale(0.842,1)">28 Apr 2014</text>
<line x1="259.56" x2="259.56" y1="497.6" y2="500.7" stroke="#222" stroke-width="0.9"/><text transform="translate(258.46,507.9) scale(0.842,1)">8 May 2014</text>
<line x1="310.92" x2="310.92" y1="497.6" y2="500.7" stroke="#222" stroke-width="0.9"/><text transform="translate(309.82,507.9) scale(0.842,1)">20 May 2014</text>
<line x1="362.29" x2="362.29" y1="497.6" y2="500.7" stroke="#222" stroke-width="0.9"/><text transform="translate(361.19,507.9) scale(0.842,1)">30 May 2014</text>
<line x1="413.65" x2="413.65" y1="497.6" y2="500.7" stroke="#222" stroke-width="0.9"/><text transform="translate(412.55,507.9) scale(0.842,1)">11 Jun 2014</text>
<line x1="465.01" x2="465.01" y1="497.6" y2="500.7" stroke="#222" stroke-width="0.9"/><text transform="translate(463.91,507.9) scale(0.842,1)">23 Jun 2014</text>
<line x1="516.37" x2="516.37" y1="497.6" y2="500.7" stroke="#222" stroke-width="0.9"/><text transform="translate(515.27,507.9) scale(0.842,1)">3 Jul 2014</text>
<line x1="567.74" x2="567.74" y1="497.6" y2="500.7" stroke="#222" stroke-width="0.9"/><text transform="translate(566.64,507.9) scale(0.842,1)">15 Jul 2014</text>
<line x1="619.10" x2="619.10" y1="497.6" y2="500.7" stroke="#222" stroke-width="0.9"/><text transform="translate(618.00,507.9) scale(0.842,1)">25 Jul 2014</text>
<line x1="670.46" x2="670.46" y1="497.6" y2="500.7" stroke="#222" stroke-width="0.9"/><text transform="translate(669.36,507.9) scale(0.842,1)">6 Aug 2014</text>
<line x1="721.82" x2="721.82" y1="497.6" y2="500.7" stroke="#222" stroke-width="0.9"/><text transform="translate(720.72,507.9) scale(0.842,1)">18 Aug 2014</text>
<line x1="773.19" x2="773.19" y1="497.6" y2="500.7" stroke="#222" stroke-width="0.9"/><text transform="translate(772.09,507.9) scale(0.842,1)">28 Aug 2014</text>
<line x1="824.55" x2="824.55" y1="497.6" y2="500.7" stroke="#222" stroke-width="0.9"/><text transform="translate(823.45,507.9) scale(0.842,1)">9 Sep 2014</text>
<line x1="875.91" x2="875.91" y1="497.6" y2="500.7" stroke="#222" stroke-width="0.9"/><text transform="translate(874.81,507.9) scale(0.842,1)">19 Sep 2014</text>
<line x1="927.27" x2="927.27" y1="497.6" y2="500.7" stroke="#222" stroke-width="0.9"/><text transform="translate(926.17,507.9) scale(0.842,1)">1 Oct 2014</text>
<line x1="978.64" x2="978.64" y1="497.6" y2="500.7" stroke="#222" stroke-width="0.9"/><text transform="translate(977.54,507.9) scale(0.842,1)">13 Oct 2014</text>
<text x="5.5" y="11" style="font-size:8px" textLength="32.4" lengthAdjust="spacingAndGlyphs">_SI,Daily</text>
<text x="42.8" y="11" style="font-size:8px" textLength="95.9" lengthAdjust="spacingAndGlyphs">17.340 17.585 17.340 17.490</text>
<text x="6" y="494.2" style="font-size:7.8px" textLength="192" lengthAdjust="spacingAndGlyphs">MetaTrader 4, © 2001-2014, MetaQuotes Software Corp.</text>
</svg></body></html>
